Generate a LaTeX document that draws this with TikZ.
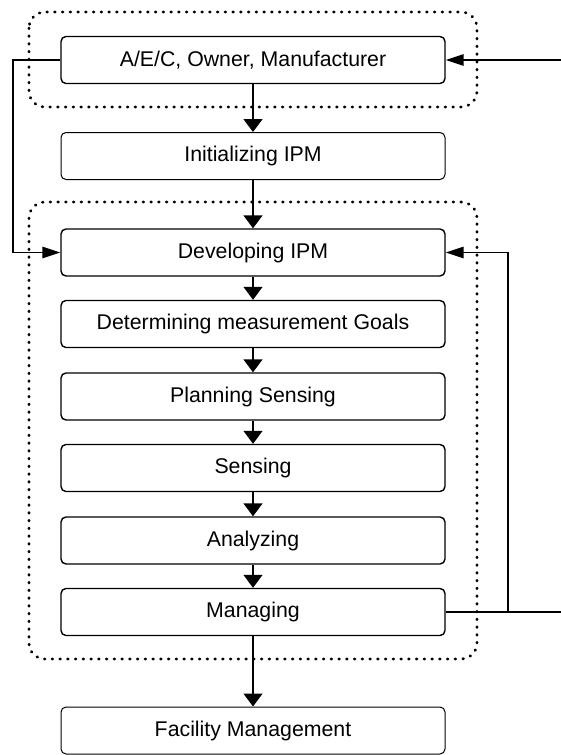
\documentclass[tikz,border=0pt]{standalone}
\usepackage{fontspec}
\setmainfont{Liberation Sans}
\usetikzlibrary{arrows.meta}
\begin{document}
\begin{tikzpicture}[x=1pt,y=-1pt,
  stage/.style={draw, line width=1.4pt, rounded corners=5pt,
    minimum width=384pt, minimum height=47pt, inner sep=0pt,
    font=\fontsize{21.3}{25}\selectfont},
  thinstage/.style={stage, line width=1pt, draw=black},
  group/.style={line width=2.9pt, line cap=round,
    dash pattern=on 0.6pt off 7.15pt, rounded corners=16pt},
  link/.style={line width=1.5pt},
  vtip/.style={link, -{Triangle[length=13pt,width=19pt]}},
  htip/.style={link, -{Triangle[length=18pt,width=11.5pt]}}]
\useasboundingbox (0,0) rectangle (561,755);

% dotted groupings
\draw[group] (29,12) rectangle (477,107);
\draw[group] (29,202) rectangle (477,659);

% stages
\node[stage]     (aec)  at (253,60)    {A/E/C, Owner, Manufacturer};
\node[thinstage] (init) at (253,156)   {Initializing IPM};
\node[stage]     (dev)  at (253,252.5) {Developing IPM};
\node[stage]     (goal) at (253,324)   {Determining measurement Goals};
\node[stage]     (plan) at (253,396.5) {Planning Sensing};
\node[stage]     (sens) at (253,468)   {Sensing};
\node[stage]     (anal) at (253,540.5) {Analyzing};
\node[stage]     (mgmt) at (253,612)   {Managing};
\node[thinstage] (fm)   at (253,730.5) {Facility Management};

% free ends and bends
\coordinate (inR)  at (561,60);
\coordinate (outR) at (561,612);
\coordinate (fbx)  at (508,612);
\coordinate (lx)   at (13,60);

% main flow
\draw[vtip] (aec) -- (init);
\draw[vtip] (init) -- (dev);
\draw[vtip] (dev) -- (goal);
\draw[vtip] (goal) -- (plan);
\draw[vtip] (plan) -- (sens);
\draw[vtip] (sens) -- (anal);
\draw[vtip] (anal) -- (mgmt);
\draw[vtip] (mgmt) -- (fm);

% side connections
\draw[htip] (inR) -- (aec.east);
\draw[htip] (aec.west) -- (lx) |- (dev.west);
\draw[link] (mgmt.east) -- (outR);
\draw[htip] (fbx) |- (dev.east);
\end{tikzpicture}
\end{document}
